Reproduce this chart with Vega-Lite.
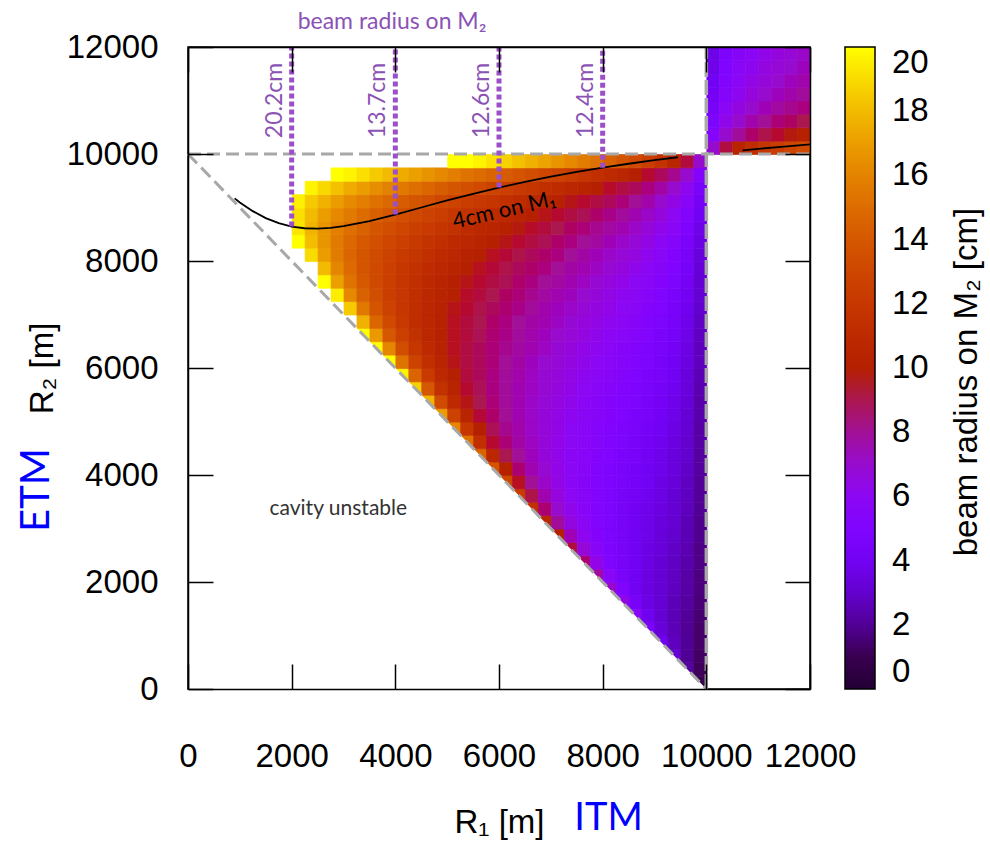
{
"$schema": "https://vega.github.io/schema/vega-lite/v6.json",
"width": 622, "height": 642,
"autosize": {"type": "none"},
"padding": {"left": 188, "top": 47, "right": 180, "bottom": 152},
"background": "white",
"config": {
 "view": {"stroke": "black", "strokeWidth": 1.5},
 "axis": {"grid": false, "labelFont": "Liberation Sans", "titleFont": "Liberation Sans", "labelFontSize": 33, "titleFontSize": 33, "titleFontWeight": "normal", "labelColor": "black", "titleColor": "black", "tickColor": "black", "domainColor": "black", "tickWidth": 1.5, "domainWidth": 1.5, "labelFlush": false, "labelOverlap": false},
 "legend": {"labelFont": "Liberation Sans", "titleFont": "Liberation Sans"}
},
"resolve": {"axis": {"x": "independent", "y": "independent"}},
"datasets": {
 "cells": [
{"r1":2125,"r2":8375,"w":20},{"r1":2125,"r2":8625,"w":19.3},{"r1":2125,"r2":8875,"w":19.1},{"r1":2125,"r2":9125,"w":19.6},
{"r1":2375,"r2":8125,"w":19.0},{"r1":2375,"r2":8375,"w":18.1},{"r1":2375,"r2":8625,"w":17.8},{"r1":2375,"r2":8875,"w":18.0},{"r1":2375,"r2":9125,"w":18.5},{"r1":2375,"r2":9375,"w":19.7},
{"r1":2625,"r2":7625,"w":20},{"r1":2625,"r2":7875,"w":18.0},{"r1":2625,"r2":8125,"w":17.0},{"r1":2625,"r2":8375,"w":16.7},{"r1":2625,"r2":8625,"w":16.7},{"r1":2625,"r2":8875,"w":17.0},{"r1":2625,"r2":9125,"w":17.7},{"r1":2625,"r2":9375,"w":18.9},
{"r1":2875,"r2":7375,"w":19.5},{"r1":2875,"r2":7625,"w":17.1},{"r1":2875,"r2":7875,"w":16.1},{"r1":2875,"r2":8125,"w":15.7},{"r1":2875,"r2":8375,"w":15.6},{"r1":2875,"r2":8625,"w":15.8},{"r1":2875,"r2":8875,"w":16.2},{"r1":2875,"r2":9125,"w":17.0},{"r1":2875,"r2":9375,"w":18.2},{"r1":2875,"r2":9625,"w":20},
{"r1":3125,"r2":7125,"w":18.5},{"r1":3125,"r2":7375,"w":16.2},{"r1":3125,"r2":7625,"w":15.3},{"r1":3125,"r2":7875,"w":14.9},{"r1":3125,"r2":8125,"w":14.7},{"r1":3125,"r2":8375,"w":14.8},{"r1":3125,"r2":8625,"w":15.1},{"r1":3125,"r2":8875,"w":15.6},{"r1":3125,"r2":9125,"w":16.3},{"r1":3125,"r2":9375,"w":17.5},{"r1":3125,"r2":9625,"w":19.7},
{"r1":3375,"r2":6625,"w":20},{"r1":3375,"r2":6875,"w":17.7},{"r1":3375,"r2":7125,"w":15.5},{"r1":3375,"r2":7375,"w":14.5},{"r1":3375,"r2":7625,"w":14.1},{"r1":3375,"r2":7875,"w":13.9},{"r1":3375,"r2":8125,"w":13.9},{"r1":3375,"r2":8375,"w":14.1},{"r1":3375,"r2":8625,"w":14.5},{"r1":3375,"r2":8875,"w":15.0},{"r1":3375,"r2":9125,"w":15.8},{"r1":3375,"r2":9375,"w":17.0},{"r1":3375,"r2":9625,"w":19.1},
{"r1":3625,"r2":6375,"w":20},{"r1":3625,"r2":6625,"w":16.9},{"r1":3625,"r2":6875,"w":14.7},{"r1":3625,"r2":7125,"w":13.8},{"r1":3625,"r2":7375,"w":13.4},{"r1":3625,"r2":7625,"w":13.2},{"r1":3625,"r2":7875,"w":13.2},{"r1":3625,"r2":8125,"w":13.3},{"r1":3625,"r2":8375,"w":13.5},{"r1":3625,"r2":8625,"w":13.9},{"r1":3625,"r2":8875,"w":14.4},{"r1":3625,"r2":9125,"w":15.2},{"r1":3625,"r2":9375,"w":16.4},{"r1":3625,"r2":9625,"w":18.5},
{"r1":3875,"r2":6125,"w":20},{"r1":3875,"r2":6375,"w":16.1},{"r1":3875,"r2":6625,"w":14.0},{"r1":3875,"r2":6875,"w":13.2},{"r1":3875,"r2":7125,"w":12.7},{"r1":3875,"r2":7375,"w":12.5},{"r1":3875,"r2":7625,"w":12.5},{"r1":3875,"r2":7875,"w":12.6},{"r1":3875,"r2":8125,"w":12.7},{"r1":3875,"r2":8375,"w":13.0},{"r1":3875,"r2":8625,"w":13.4},{"r1":3875,"r2":8875,"w":14.0},{"r1":3875,"r2":9125,"w":14.8},{"r1":3875,"r2":9375,"w":15.9},{"r1":3875,"r2":9625,"w":18.0},
{"r1":4125,"r2":5875,"w":19.7},{"r1":4125,"r2":6125,"w":15.3},{"r1":4125,"r2":6375,"w":13.4},{"r1":4125,"r2":6625,"w":12.6},{"r1":4125,"r2":6875,"w":12.1},{"r1":4125,"r2":7125,"w":11.9},{"r1":4125,"r2":7375,"w":11.9},{"r1":4125,"r2":7625,"w":11.9},{"r1":4125,"r2":7875,"w":12.0},{"r1":4125,"r2":8125,"w":12.2},{"r1":4125,"r2":8375,"w":12.6},{"r1":4125,"r2":8625,"w":13.0},{"r1":4125,"r2":8875,"w":13.5},{"r1":4125,"r2":9125,"w":14.3},{"r1":4125,"r2":9375,"w":15.5},{"r1":4125,"r2":9625,"w":17.5},
{"r1":4375,"r2":5625,"w":18.7},{"r1":4375,"r2":5875,"w":14.6},{"r1":4375,"r2":6125,"w":12.8},{"r1":4375,"r2":6375,"w":12.0},{"r1":4375,"r2":6625,"w":11.6},{"r1":4375,"r2":6875,"w":11.3},{"r1":4375,"r2":7125,"w":11.3},{"r1":4375,"r2":7375,"w":11.3},{"r1":4375,"r2":7625,"w":11.4},{"r1":4375,"r2":7875,"w":11.6},{"r1":4375,"r2":8125,"w":11.8},{"r1":4375,"r2":8375,"w":12.1},{"r1":4375,"r2":8625,"w":12.5},{"r1":4375,"r2":8875,"w":13.1},{"r1":4375,"r2":9125,"w":13.9},{"r1":4375,"r2":9375,"w":15.1},{"r1":4375,"r2":9625,"w":17.1},
{"r1":4625,"r2":5375,"w":17.8},{"r1":4625,"r2":5625,"w":14.0},{"r1":4625,"r2":5875,"w":12.2},{"r1":4625,"r2":6125,"w":11.4},{"r1":4625,"r2":6375,"w":11.0},{"r1":4625,"r2":6625,"w":10.8},{"r1":4625,"r2":6875,"w":10.7},{"r1":4625,"r2":7125,"w":10.7},{"r1":4625,"r2":7375,"w":10.8},{"r1":4625,"r2":7625,"w":10.9},{"r1":4625,"r2":7875,"w":11.1},{"r1":4625,"r2":8125,"w":11.4},{"r1":4625,"r2":8375,"w":11.7},{"r1":4625,"r2":8625,"w":12.2},{"r1":4625,"r2":8875,"w":12.7},{"r1":4625,"r2":9125,"w":13.5},{"r1":4625,"r2":9375,"w":14.7},{"r1":4625,"r2":9625,"w":16.6},
{"r1":4875,"r2":5125,"w":17.0},{"r1":4875,"r2":5375,"w":13.3},{"r1":4875,"r2":5625,"w":11.6},{"r1":4875,"r2":5875,"w":10.9},{"r1":4875,"r2":6125,"w":10.5},{"r1":4875,"r2":6375,"w":10.3},{"r1":4875,"r2":6625,"w":10.2},{"r1":4875,"r2":6875,"w":10.2},{"r1":4875,"r2":7125,"w":10.3},{"r1":4875,"r2":7375,"w":10.4},{"r1":4875,"r2":7625,"w":10.5},{"r1":4875,"r2":7875,"w":10.7},{"r1":4875,"r2":8125,"w":11.0},{"r1":4875,"r2":8375,"w":11.4},{"r1":4875,"r2":8625,"w":11.8},{"r1":4875,"r2":8875,"w":12.4},{"r1":4875,"r2":9125,"w":13.1},{"r1":4875,"r2":9375,"w":14.3},{"r1":4875,"r2":9625,"w":16.2},
{"r1":5125,"r2":4875,"w":16.1},{"r1":5125,"r2":5125,"w":12.7},{"r1":5125,"r2":5375,"w":11.0},{"r1":5125,"r2":5625,"w":10.4},{"r1":5125,"r2":5875,"w":10.0},{"r1":5125,"r2":6125,"w":9.8},{"r1":5125,"r2":6375,"w":9.7},{"r1":5125,"r2":6625,"w":9.7},{"r1":5125,"r2":6875,"w":9.7},{"r1":5125,"r2":7125,"w":9.8},{"r1":5125,"r2":7375,"w":10.0},{"r1":5125,"r2":7625,"w":10.1},{"r1":5125,"r2":7875,"w":10.4},{"r1":5125,"r2":8125,"w":10.7},{"r1":5125,"r2":8375,"w":11.0},{"r1":5125,"r2":8625,"w":11.5},{"r1":5125,"r2":8875,"w":12.0},{"r1":5125,"r2":9125,"w":12.8},{"r1":5125,"r2":9375,"w":13.9},{"r1":5125,"r2":9625,"w":15.8},{"r1":5125,"r2":9875,"w":20},
{"r1":5375,"r2":4625,"w":15.3},{"r1":5375,"r2":4875,"w":12.0},{"r1":5375,"r2":5125,"w":10.5},{"r1":5375,"r2":5375,"w":9.8},{"r1":5375,"r2":5625,"w":9.5},{"r1":5375,"r2":5875,"w":9.3},{"r1":5375,"r2":6125,"w":9.2},{"r1":5375,"r2":6375,"w":9.2},{"r1":5375,"r2":6625,"w":9.3},{"r1":5375,"r2":6875,"w":9.3},{"r1":5375,"r2":7125,"w":9.5},{"r1":5375,"r2":7375,"w":9.6},{"r1":5375,"r2":7625,"w":9.8},{"r1":5375,"r2":7875,"w":10.0},{"r1":5375,"r2":8125,"w":10.3},{"r1":5375,"r2":8375,"w":10.7},{"r1":5375,"r2":8625,"w":11.1},{"r1":5375,"r2":8875,"w":11.7},{"r1":5375,"r2":9125,"w":12.4},{"r1":5375,"r2":9375,"w":13.5},{"r1":5375,"r2":9625,"w":15.3},{"r1":5375,"r2":9875,"w":20},
{"r1":5625,"r2":4375,"w":14.6},{"r1":5625,"r2":4625,"w":11.4},{"r1":5625,"r2":4875,"w":10.0},{"r1":5625,"r2":5125,"w":9.4},{"r1":5625,"r2":5375,"w":9.0},{"r1":5625,"r2":5625,"w":8.9},{"r1":5625,"r2":5875,"w":8.8},{"r1":5625,"r2":6125,"w":8.8},{"r1":5625,"r2":6375,"w":8.8},{"r1":5625,"r2":6625,"w":8.9},{"r1":5625,"r2":6875,"w":9.0},{"r1":5625,"r2":7125,"w":9.1},{"r1":5625,"r2":7375,"w":9.3},{"r1":5625,"r2":7625,"w":9.5},{"r1":5625,"r2":7875,"w":9.7},{"r1":5625,"r2":8125,"w":10.0},{"r1":5625,"r2":8375,"w":10.4},{"r1":5625,"r2":8625,"w":10.8},{"r1":5625,"r2":8875,"w":11.4},{"r1":5625,"r2":9125,"w":12.1},{"r1":5625,"r2":9375,"w":13.2},{"r1":5625,"r2":9625,"w":15.0},{"r1":5625,"r2":9875,"w":19.7},
{"r1":5875,"r2":4125,"w":13.8},{"r1":5875,"r2":4375,"w":10.8},{"r1":5875,"r2":4625,"w":9.5},{"r1":5875,"r2":4875,"w":8.9},{"r1":5875,"r2":5125,"w":8.6},{"r1":5875,"r2":5375,"w":8.4},{"r1":5875,"r2":5625,"w":8.3},{"r1":5875,"r2":5875,"w":8.3},{"r1":5875,"r2":6125,"w":8.4},{"r1":5875,"r2":6375,"w":8.4},{"r1":5875,"r2":6625,"w":8.5},{"r1":5875,"r2":6875,"w":8.6},{"r1":5875,"r2":7125,"w":8.8},{"r1":5875,"r2":7375,"w":9.0},{"r1":5875,"r2":7625,"w":9.2},{"r1":5875,"r2":7875,"w":9.4},{"r1":5875,"r2":8125,"w":9.7},{"r1":5875,"r2":8375,"w":10.1},{"r1":5875,"r2":8625,"w":10.5},{"r1":5875,"r2":8875,"w":11.0},{"r1":5875,"r2":9125,"w":11.8},{"r1":5875,"r2":9375,"w":12.8},{"r1":5875,"r2":9625,"w":14.6},{"r1":5875,"r2":9875,"w":19.2},
{"r1":6125,"r2":3875,"w":13.1},{"r1":6125,"r2":4125,"w":10.2},{"r1":6125,"r2":4375,"w":9.0},{"r1":6125,"r2":4625,"w":8.4},{"r1":6125,"r2":4875,"w":8.1},{"r1":6125,"r2":5125,"w":8.0},{"r1":6125,"r2":5375,"w":7.9},{"r1":6125,"r2":5625,"w":7.9},{"r1":6125,"r2":5875,"w":7.9},{"r1":6125,"r2":6125,"w":8.0},{"r1":6125,"r2":6375,"w":8.1},{"r1":6125,"r2":6625,"w":8.2},{"r1":6125,"r2":6875,"w":8.3},{"r1":6125,"r2":7125,"w":8.5},{"r1":6125,"r2":7375,"w":8.7},{"r1":6125,"r2":7625,"w":8.9},{"r1":6125,"r2":7875,"w":9.1},{"r1":6125,"r2":8125,"w":9.4},{"r1":6125,"r2":8375,"w":9.8},{"r1":6125,"r2":8625,"w":10.2},{"r1":6125,"r2":8875,"w":10.7},{"r1":6125,"r2":9125,"w":11.4},{"r1":6125,"r2":9375,"w":12.5},{"r1":6125,"r2":9625,"w":14.2},{"r1":6125,"r2":9875,"w":18.7},
{"r1":6375,"r2":3625,"w":12.3},{"r1":6375,"r2":3875,"w":9.7},{"r1":6375,"r2":4125,"w":8.5},{"r1":6375,"r2":4375,"w":8.0},{"r1":6375,"r2":4625,"w":7.7},{"r1":6375,"r2":4875,"w":7.6},{"r1":6375,"r2":5125,"w":7.5},{"r1":6375,"r2":5375,"w":7.5},{"r1":6375,"r2":5625,"w":7.5},{"r1":6375,"r2":5875,"w":7.6},{"r1":6375,"r2":6125,"w":7.7},{"r1":6375,"r2":6375,"w":7.8},{"r1":6375,"r2":6625,"w":7.9},{"r1":6375,"r2":6875,"w":8.0},{"r1":6375,"r2":7125,"w":8.2},{"r1":6375,"r2":7375,"w":8.4},{"r1":6375,"r2":7625,"w":8.6},{"r1":6375,"r2":7875,"w":8.8},{"r1":6375,"r2":8125,"w":9.1},{"r1":6375,"r2":8375,"w":9.5},{"r1":6375,"r2":8625,"w":9.9},{"r1":6375,"r2":8875,"w":10.4},{"r1":6375,"r2":9125,"w":11.1},{"r1":6375,"r2":9375,"w":12.1},{"r1":6375,"r2":9625,"w":13.8},{"r1":6375,"r2":9875,"w":18.2},
{"r1":6625,"r2":3375,"w":11.5},{"r1":6625,"r2":3625,"w":9.1},{"r1":6625,"r2":3875,"w":8.0},{"r1":6625,"r2":4125,"w":7.5},{"r1":6625,"r2":4375,"w":7.3},{"r1":6625,"r2":4625,"w":7.2},{"r1":6625,"r2":4875,"w":7.1},{"r1":6625,"r2":5125,"w":7.1},{"r1":6625,"r2":5375,"w":7.1},{"r1":6625,"r2":5625,"w":7.2},{"r1":6625,"r2":5875,"w":7.2},{"r1":6625,"r2":6125,"w":7.3},{"r1":6625,"r2":6375,"w":7.5},{"r1":6625,"r2":6625,"w":7.6},{"r1":6625,"r2":6875,"w":7.7},{"r1":6625,"r2":7125,"w":7.9},{"r1":6625,"r2":7375,"w":8.1},{"r1":6625,"r2":7625,"w":8.3},{"r1":6625,"r2":7875,"w":8.6},{"r1":6625,"r2":8125,"w":8.8},{"r1":6625,"r2":8375,"w":9.2},{"r1":6625,"r2":8625,"w":9.6},{"r1":6625,"r2":8875,"w":10.1},{"r1":6625,"r2":9125,"w":10.8},{"r1":6625,"r2":9375,"w":11.8},{"r1":6625,"r2":9625,"w":13.4},{"r1":6625,"r2":9875,"w":17.7},
{"r1":6875,"r2":3125,"w":10.8},{"r1":6875,"r2":3375,"w":8.5},{"r1":6875,"r2":3625,"w":7.5},{"r1":6875,"r2":3875,"w":7.1},{"r1":6875,"r2":4125,"w":6.9},{"r1":6875,"r2":4375,"w":6.7},{"r1":6875,"r2":4625,"w":6.7},{"r1":6875,"r2":4875,"w":6.7},{"r1":6875,"r2":5125,"w":6.7},{"r1":6875,"r2":5375,"w":6.8},{"r1":6875,"r2":5625,"w":6.9},{"r1":6875,"r2":5875,"w":6.9},{"r1":6875,"r2":6125,"w":7.0},{"r1":6875,"r2":6375,"w":7.2},{"r1":6875,"r2":6625,"w":7.3},{"r1":6875,"r2":6875,"w":7.5},{"r1":6875,"r2":7125,"w":7.6},{"r1":6875,"r2":7375,"w":7.8},{"r1":6875,"r2":7625,"w":8.0},{"r1":6875,"r2":7875,"w":8.3},{"r1":6875,"r2":8125,"w":8.6},{"r1":6875,"r2":8375,"w":8.9},{"r1":6875,"r2":8625,"w":9.3},{"r1":6875,"r2":8875,"w":9.8},{"r1":6875,"r2":9125,"w":10.5},{"r1":6875,"r2":9375,"w":11.4},{"r1":6875,"r2":9625,"w":13.0},{"r1":6875,"r2":9875,"w":17.2},
{"r1":7125,"r2":2875,"w":10.0},{"r1":7125,"r2":3125,"w":7.9},{"r1":7125,"r2":3375,"w":7.0},{"r1":7125,"r2":3625,"w":6.6},{"r1":7125,"r2":3875,"w":6.4},{"r1":7125,"r2":4125,"w":6.3},{"r1":7125,"r2":4375,"w":6.3},{"r1":7125,"r2":4625,"w":6.3},{"r1":7125,"r2":4875,"w":6.4},{"r1":7125,"r2":5125,"w":6.4},{"r1":7125,"r2":5375,"w":6.5},{"r1":7125,"r2":5625,"w":6.6},{"r1":7125,"r2":5875,"w":6.7},{"r1":7125,"r2":6125,"w":6.8},{"r1":7125,"r2":6375,"w":6.9},{"r1":7125,"r2":6625,"w":7.0},{"r1":7125,"r2":6875,"w":7.2},{"r1":7125,"r2":7125,"w":7.3},{"r1":7125,"r2":7375,"w":7.5},{"r1":7125,"r2":7625,"w":7.8},{"r1":7125,"r2":7875,"w":8.0},{"r1":7125,"r2":8125,"w":8.3},{"r1":7125,"r2":8375,"w":8.6},{"r1":7125,"r2":8625,"w":9.0},{"r1":7125,"r2":8875,"w":9.5},{"r1":7125,"r2":9125,"w":10.2},{"r1":7125,"r2":9375,"w":11.1},{"r1":7125,"r2":9625,"w":12.7},{"r1":7125,"r2":9875,"w":16.7},
{"r1":7375,"r2":2625,"w":9.3},{"r1":7375,"r2":2875,"w":7.4},{"r1":7375,"r2":3125,"w":6.5},{"r1":7375,"r2":3375,"w":6.2},{"r1":7375,"r2":3625,"w":6.0},{"r1":7375,"r2":3875,"w":5.9},{"r1":7375,"r2":4125,"w":5.9},{"r1":7375,"r2":4375,"w":5.9},{"r1":7375,"r2":4625,"w":6.0},{"r1":7375,"r2":4875,"w":6.0},{"r1":7375,"r2":5125,"w":6.1},{"r1":7375,"r2":5375,"w":6.2},{"r1":7375,"r2":5625,"w":6.3},{"r1":7375,"r2":5875,"w":6.4},{"r1":7375,"r2":6125,"w":6.5},{"r1":7375,"r2":6375,"w":6.6},{"r1":7375,"r2":6625,"w":6.8},{"r1":7375,"r2":6875,"w":6.9},{"r1":7375,"r2":7125,"w":7.1},{"r1":7375,"r2":7375,"w":7.3},{"r1":7375,"r2":7625,"w":7.5},{"r1":7375,"r2":7875,"w":7.7},{"r1":7375,"r2":8125,"w":8.0},{"r1":7375,"r2":8375,"w":8.3},{"r1":7375,"r2":8625,"w":8.7},{"r1":7375,"r2":8875,"w":9.2},{"r1":7375,"r2":9125,"w":9.8},{"r1":7375,"r2":9375,"w":10.7},{"r1":7375,"r2":9625,"w":12.3},{"r1":7375,"r2":9875,"w":16.2},
{"r1":7625,"r2":2375,"w":8.5},{"r1":7625,"r2":2625,"w":6.8},{"r1":7625,"r2":2875,"w":6.1},{"r1":7625,"r2":3125,"w":5.8},{"r1":7625,"r2":3375,"w":5.6},{"r1":7625,"r2":3625,"w":5.6},{"r1":7625,"r2":3875,"w":5.5},{"r1":7625,"r2":4125,"w":5.6},{"r1":7625,"r2":4375,"w":5.6},{"r1":7625,"r2":4625,"w":5.7},{"r1":7625,"r2":4875,"w":5.7},{"r1":7625,"r2":5125,"w":5.8},{"r1":7625,"r2":5375,"w":5.9},{"r1":7625,"r2":5625,"w":6.0},{"r1":7625,"r2":5875,"w":6.1},{"r1":7625,"r2":6125,"w":6.2},{"r1":7625,"r2":6375,"w":6.3},{"r1":7625,"r2":6625,"w":6.5},{"r1":7625,"r2":6875,"w":6.6},{"r1":7625,"r2":7125,"w":6.8},{"r1":7625,"r2":7375,"w":7.0},{"r1":7625,"r2":7625,"w":7.2},{"r1":7625,"r2":7875,"w":7.5},{"r1":7625,"r2":8125,"w":7.7},{"r1":7625,"r2":8375,"w":8.0},{"r1":7625,"r2":8625,"w":8.4},{"r1":7625,"r2":8875,"w":8.9},{"r1":7625,"r2":9125,"w":9.5},{"r1":7625,"r2":9375,"w":10.4},{"r1":7625,"r2":9625,"w":11.8},{"r1":7625,"r2":9875,"w":15.7},
{"r1":7875,"r2":2125,"w":7.8},{"r1":7875,"r2":2375,"w":6.3},{"r1":7875,"r2":2625,"w":5.6},{"r1":7875,"r2":2875,"w":5.3},{"r1":7875,"r2":3125,"w":5.2},{"r1":7875,"r2":3375,"w":5.2},{"r1":7875,"r2":3625,"w":5.2},{"r1":7875,"r2":3875,"w":5.2},{"r1":7875,"r2":4125,"w":5.2},{"r1":7875,"r2":4375,"w":5.3},{"r1":7875,"r2":4625,"w":5.4},{"r1":7875,"r2":4875,"w":5.4},{"r1":7875,"r2":5125,"w":5.5},{"r1":7875,"r2":5375,"w":5.6},{"r1":7875,"r2":5625,"w":5.7},{"r1":7875,"r2":5875,"w":5.8},{"r1":7875,"r2":6125,"w":6.0},{"r1":7875,"r2":6375,"w":6.1},{"r1":7875,"r2":6625,"w":6.2},{"r1":7875,"r2":6875,"w":6.4},{"r1":7875,"r2":7125,"w":6.5},{"r1":7875,"r2":7375,"w":6.7},{"r1":7875,"r2":7625,"w":6.9},{"r1":7875,"r2":7875,"w":7.2},{"r1":7875,"r2":8125,"w":7.4},{"r1":7875,"r2":8375,"w":7.8},{"r1":7875,"r2":8625,"w":8.1},{"r1":7875,"r2":8875,"w":8.6},{"r1":7875,"r2":9125,"w":9.2},{"r1":7875,"r2":9375,"w":10.0},{"r1":7875,"r2":9625,"w":11.4},{"r1":7875,"r2":9875,"w":15.2},
{"r1":8125,"r2":1875,"w":7.1},{"r1":8125,"r2":2125,"w":5.7},{"r1":8125,"r2":2375,"w":5.1},{"r1":8125,"r2":2625,"w":4.9},{"r1":8125,"r2":2875,"w":4.8},{"r1":8125,"r2":3125,"w":4.8},{"r1":8125,"r2":3375,"w":4.8},{"r1":8125,"r2":3625,"w":4.8},{"r1":8125,"r2":3875,"w":4.9},{"r1":8125,"r2":4125,"w":4.9},{"r1":8125,"r2":4375,"w":5.0},{"r1":8125,"r2":4625,"w":5.1},{"r1":8125,"r2":4875,"w":5.2},{"r1":8125,"r2":5125,"w":5.3},{"r1":8125,"r2":5375,"w":5.3},{"r1":8125,"r2":5625,"w":5.5},{"r1":8125,"r2":5875,"w":5.6},{"r1":8125,"r2":6125,"w":5.7},{"r1":8125,"r2":6375,"w":5.8},{"r1":8125,"r2":6625,"w":5.9},{"r1":8125,"r2":6875,"w":6.1},{"r1":8125,"r2":7125,"w":6.3},{"r1":8125,"r2":7375,"w":6.4},{"r1":8125,"r2":7625,"w":6.6},{"r1":8125,"r2":7875,"w":6.9},{"r1":8125,"r2":8125,"w":7.1},{"r1":8125,"r2":8375,"w":7.4},{"r1":8125,"r2":8625,"w":7.8},{"r1":8125,"r2":8875,"w":8.2},{"r1":8125,"r2":9125,"w":8.8},{"r1":8125,"r2":9375,"w":9.6},{"r1":8125,"r2":9625,"w":11.0},{"r1":8125,"r2":9875,"w":14.5},
{"r1":8375,"r2":1625,"w":6.4},{"r1":8375,"r2":1875,"w":5.1},{"r1":8375,"r2":2125,"w":4.6},{"r1":8375,"r2":2375,"w":4.5},{"r1":8375,"r2":2625,"w":4.4},{"r1":8375,"r2":2875,"w":4.4},{"r1":8375,"r2":3125,"w":4.4},{"r1":8375,"r2":3375,"w":4.4},{"r1":8375,"r2":3625,"w":4.5},{"r1":8375,"r2":3875,"w":4.6},{"r1":8375,"r2":4125,"w":4.6},{"r1":8375,"r2":4375,"w":4.7},{"r1":8375,"r2":4625,"w":4.8},{"r1":8375,"r2":4875,"w":4.9},{"r1":8375,"r2":5125,"w":5.0},{"r1":8375,"r2":5375,"w":5.1},{"r1":8375,"r2":5625,"w":5.2},{"r1":8375,"r2":5875,"w":5.3},{"r1":8375,"r2":6125,"w":5.4},{"r1":8375,"r2":6375,"w":5.5},{"r1":8375,"r2":6625,"w":5.7},{"r1":8375,"r2":6875,"w":5.8},{"r1":8375,"r2":7125,"w":6.0},{"r1":8375,"r2":7375,"w":6.1},{"r1":8375,"r2":7625,"w":6.3},{"r1":8375,"r2":7875,"w":6.6},{"r1":8375,"r2":8125,"w":6.8},{"r1":8375,"r2":8375,"w":7.1},{"r1":8375,"r2":8625,"w":7.5},{"r1":8375,"r2":8875,"w":7.9},{"r1":8375,"r2":9125,"w":8.4},{"r1":8375,"r2":9375,"w":9.2},{"r1":8375,"r2":9625,"w":10.6},{"r1":8375,"r2":9875,"w":13.9},
{"r1":8625,"r2":1375,"w":5.6},{"r1":8625,"r2":1625,"w":4.5},{"r1":8625,"r2":1875,"w":4.1},{"r1":8625,"r2":2125,"w":4.0},{"r1":8625,"r2":2375,"w":4.0},{"r1":8625,"r2":2625,"w":4.0},{"r1":8625,"r2":2875,"w":4.0},{"r1":8625,"r2":3125,"w":4.1},{"r1":8625,"r2":3375,"w":4.1},{"r1":8625,"r2":3625,"w":4.2},{"r1":8625,"r2":3875,"w":4.3},{"r1":8625,"r2":4125,"w":4.3},{"r1":8625,"r2":4375,"w":4.4},{"r1":8625,"r2":4625,"w":4.5},{"r1":8625,"r2":4875,"w":4.6},{"r1":8625,"r2":5125,"w":4.7},{"r1":8625,"r2":5375,"w":4.8},{"r1":8625,"r2":5625,"w":4.9},{"r1":8625,"r2":5875,"w":5.0},{"r1":8625,"r2":6125,"w":5.1},{"r1":8625,"r2":6375,"w":5.2},{"r1":8625,"r2":6625,"w":5.4},{"r1":8625,"r2":6875,"w":5.5},{"r1":8625,"r2":7125,"w":5.7},{"r1":8625,"r2":7375,"w":5.8},{"r1":8625,"r2":7625,"w":6.0},{"r1":8625,"r2":7875,"w":6.2},{"r1":8625,"r2":8125,"w":6.5},{"r1":8625,"r2":8375,"w":6.8},{"r1":8625,"r2":8625,"w":7.1},{"r1":8625,"r2":8875,"w":7.5},{"r1":8625,"r2":9125,"w":8.0},{"r1":8625,"r2":9375,"w":8.8},{"r1":8625,"r2":9625,"w":10.0},{"r1":8625,"r2":9875,"w":13.2},
{"r1":8875,"r2":1125,"w":4.7},{"r1":8875,"r2":1375,"w":3.9},{"r1":8875,"r2":1625,"w":3.6},{"r1":8875,"r2":1875,"w":3.5},{"r1":8875,"r2":2125,"w":3.5},{"r1":8875,"r2":2375,"w":3.6},{"r1":8875,"r2":2625,"w":3.6},{"r1":8875,"r2":2875,"w":3.7},{"r1":8875,"r2":3125,"w":3.7},{"r1":8875,"r2":3375,"w":3.8},{"r1":8875,"r2":3625,"w":3.9},{"r1":8875,"r2":3875,"w":4.0},{"r1":8875,"r2":4125,"w":4.0},{"r1":8875,"r2":4375,"w":4.1},{"r1":8875,"r2":4625,"w":4.2},{"r1":8875,"r2":4875,"w":4.3},{"r1":8875,"r2":5125,"w":4.4},{"r1":8875,"r2":5375,"w":4.5},{"r1":8875,"r2":5625,"w":4.6},{"r1":8875,"r2":5875,"w":4.7},{"r1":8875,"r2":6125,"w":4.8},{"r1":8875,"r2":6375,"w":4.9},{"r1":8875,"r2":6625,"w":5.1},{"r1":8875,"r2":6875,"w":5.2},{"r1":8875,"r2":7125,"w":5.3},{"r1":8875,"r2":7375,"w":5.5},{"r1":8875,"r2":7625,"w":5.7},{"r1":8875,"r2":7875,"w":5.9},{"r1":8875,"r2":8125,"w":6.1},{"r1":8875,"r2":8375,"w":6.4},{"r1":8875,"r2":8625,"w":6.7},{"r1":8875,"r2":8875,"w":7.1},{"r1":8875,"r2":9125,"w":7.6},{"r1":8875,"r2":9375,"w":8.3},{"r1":8875,"r2":9625,"w":9.5},{"r1":8875,"r2":9875,"w":12.5},
{"r1":9125,"r2":875,"w":3.9},{"r1":9125,"r2":1125,"w":3.3},{"r1":9125,"r2":1375,"w":3.1},{"r1":9125,"r2":1625,"w":3.1},{"r1":9125,"r2":1875,"w":3.1},{"r1":9125,"r2":2125,"w":3.2},{"r1":9125,"r2":2375,"w":3.2},{"r1":9125,"r2":2625,"w":3.3},{"r1":9125,"r2":2875,"w":3.3},{"r1":9125,"r2":3125,"w":3.4},{"r1":9125,"r2":3375,"w":3.5},{"r1":9125,"r2":3625,"w":3.6},{"r1":9125,"r2":3875,"w":3.6},{"r1":9125,"r2":4125,"w":3.7},{"r1":9125,"r2":4375,"w":3.8},{"r1":9125,"r2":4625,"w":3.9},{"r1":9125,"r2":4875,"w":4.0},{"r1":9125,"r2":5125,"w":4.1},{"r1":9125,"r2":5375,"w":4.2},{"r1":9125,"r2":5625,"w":4.3},{"r1":9125,"r2":5875,"w":4.4},{"r1":9125,"r2":6125,"w":4.5},{"r1":9125,"r2":6375,"w":4.6},{"r1":9125,"r2":6625,"w":4.7},{"r1":9125,"r2":6875,"w":4.8},{"r1":9125,"r2":7125,"w":5.0},{"r1":9125,"r2":7375,"w":5.1},{"r1":9125,"r2":7625,"w":5.3},{"r1":9125,"r2":7875,"w":5.5},{"r1":9125,"r2":8125,"w":5.7},{"r1":9125,"r2":8375,"w":5.9},{"r1":9125,"r2":8625,"w":6.2},{"r1":9125,"r2":8875,"w":6.6},{"r1":9125,"r2":9125,"w":7.0},{"r1":9125,"r2":9375,"w":7.7},{"r1":9125,"r2":9625,"w":8.8},{"r1":9125,"r2":9875,"w":11.7},
{"r1":9375,"r2":625,"w":3.1},{"r1":9375,"r2":875,"w":2.7},{"r1":9375,"r2":1125,"w":2.6},{"r1":9375,"r2":1375,"w":2.6},{"r1":9375,"r2":1625,"w":2.6},{"r1":9375,"r2":1875,"w":2.7},{"r1":9375,"r2":2125,"w":2.8},{"r1":9375,"r2":2375,"w":2.8},{"r1":9375,"r2":2625,"w":2.9},{"r1":9375,"r2":2875,"w":3.0},{"r1":9375,"r2":3125,"w":3.1},{"r1":9375,"r2":3375,"w":3.1},{"r1":9375,"r2":3625,"w":3.2},{"r1":9375,"r2":3875,"w":3.3},{"r1":9375,"r2":4125,"w":3.4},{"r1":9375,"r2":4375,"w":3.4},{"r1":9375,"r2":4625,"w":3.5},{"r1":9375,"r2":4875,"w":3.6},{"r1":9375,"r2":5125,"w":3.7},{"r1":9375,"r2":5375,"w":3.8},{"r1":9375,"r2":5625,"w":3.9},{"r1":9375,"r2":5875,"w":4.0},{"r1":9375,"r2":6125,"w":4.1},{"r1":9375,"r2":6375,"w":4.2},{"r1":9375,"r2":6625,"w":4.3},{"r1":9375,"r2":6875,"w":4.4},{"r1":9375,"r2":7125,"w":4.5},{"r1":9375,"r2":7375,"w":4.7},{"r1":9375,"r2":7625,"w":4.8},{"r1":9375,"r2":7875,"w":5.0},{"r1":9375,"r2":8125,"w":5.2},{"r1":9375,"r2":8375,"w":5.4},{"r1":9375,"r2":8625,"w":5.7},{"r1":9375,"r2":8875,"w":6.0},{"r1":9375,"r2":9125,"w":6.4},{"r1":9375,"r2":9375,"w":7.0},{"r1":9375,"r2":9625,"w":8.1},{"r1":9375,"r2":9875,"w":10.6},
{"r1":9625,"r2":375,"w":2.2},{"r1":9625,"r2":625,"w":2.0},{"r1":9625,"r2":875,"w":2.0},{"r1":9625,"r2":1125,"w":2.0},{"r1":9625,"r2":1375,"w":2.1},{"r1":9625,"r2":1625,"w":2.2},{"r1":9625,"r2":1875,"w":2.3},{"r1":9625,"r2":2125,"w":2.3},{"r1":9625,"r2":2375,"w":2.4},{"r1":9625,"r2":2625,"w":2.5},{"r1":9625,"r2":2875,"w":2.6},{"r1":9625,"r2":3125,"w":2.6},{"r1":9625,"r2":3375,"w":2.7},{"r1":9625,"r2":3625,"w":2.8},{"r1":9625,"r2":3875,"w":2.8},{"r1":9625,"r2":4125,"w":2.9},{"r1":9625,"r2":4375,"w":3.0},{"r1":9625,"r2":4625,"w":3.0},{"r1":9625,"r2":4875,"w":3.1},{"r1":9625,"r2":5125,"w":3.2},{"r1":9625,"r2":5375,"w":3.3},{"r1":9625,"r2":5625,"w":3.4},{"r1":9625,"r2":5875,"w":3.4},{"r1":9625,"r2":6125,"w":3.5},{"r1":9625,"r2":6375,"w":3.6},{"r1":9625,"r2":6625,"w":3.7},{"r1":9625,"r2":6875,"w":3.8},{"r1":9625,"r2":7125,"w":3.9},{"r1":9625,"r2":7375,"w":4.1},{"r1":9625,"r2":7625,"w":4.2},{"r1":9625,"r2":7875,"w":4.3},{"r1":9625,"r2":8125,"w":4.5},{"r1":9625,"r2":8375,"w":4.7},{"r1":9625,"r2":8625,"w":4.9},{"r1":9625,"r2":8875,"w":5.2},{"r1":9625,"r2":9125,"w":5.6},{"r1":9625,"r2":9375,"w":6.1},{"r1":9625,"r2":9625,"w":7.0},{"r1":9625,"r2":9875,"w":9.3},
{"r1":9875,"r2":125,"w":0.9},{"r1":9875,"r2":375,"w":1.2},{"r1":9875,"r2":625,"w":1.3},{"r1":9875,"r2":875,"w":1.4},{"r1":9875,"r2":1125,"w":1.4},{"r1":9875,"r2":1375,"w":1.5},{"r1":9875,"r2":1625,"w":1.6},{"r1":9875,"r2":1875,"w":1.7},{"r1":9875,"r2":2125,"w":1.7},{"r1":9875,"r2":2375,"w":1.8},{"r1":9875,"r2":2625,"w":1.8},{"r1":9875,"r2":2875,"w":1.9},{"r1":9875,"r2":3125,"w":1.9},{"r1":9875,"r2":3375,"w":2.0},{"r1":9875,"r2":3625,"w":2.1},{"r1":9875,"r2":3875,"w":2.1},{"r1":9875,"r2":4125,"w":2.2},{"r1":9875,"r2":4375,"w":2.2},{"r1":9875,"r2":4625,"w":2.3},{"r1":9875,"r2":4875,"w":2.3},{"r1":9875,"r2":5125,"w":2.4},{"r1":9875,"r2":5375,"w":2.4},{"r1":9875,"r2":5625,"w":2.5},{"r1":9875,"r2":5875,"w":2.6},{"r1":9875,"r2":6125,"w":2.7},{"r1":9875,"r2":6375,"w":2.7},{"r1":9875,"r2":6625,"w":2.8},{"r1":9875,"r2":6875,"w":2.9},{"r1":9875,"r2":7125,"w":3.0},{"r1":9875,"r2":7375,"w":3.1},{"r1":9875,"r2":7625,"w":3.2},{"r1":9875,"r2":7875,"w":3.3},{"r1":9875,"r2":8125,"w":3.4},{"r1":9875,"r2":8375,"w":3.6},{"r1":9875,"r2":8625,"w":3.7},{"r1":9875,"r2":8875,"w":4.0},{"r1":9875,"r2":9125,"w":4.2},{"r1":9875,"r2":9375,"w":4.6},{"r1":9875,"r2":9625,"w":5.3},{"r1":9875,"r2":9875,"w":7.0},
{"r1":10125,"r2":10125,"w":7.0},{"r1":10375,"r2":10125,"w":9.2},{"r1":10625,"r2":10125,"w":10.4},{"r1":10875,"r2":10125,"w":11.2},{"r1":11125,"r2":10125,"w":11.9},{"r1":11375,"r2":10125,"w":12.4},{"r1":11625,"r2":10125,"w":12.9},{"r1":11875,"r2":10125,"w":13.3},
{"r1":10125,"r2":10375,"w":5.4},{"r1":10375,"r2":10375,"w":7.0},{"r1":10625,"r2":10375,"w":7.9},{"r1":10875,"r2":10375,"w":8.6},{"r1":11125,"r2":10375,"w":9.1},{"r1":11375,"r2":10375,"w":9.5},{"r1":11625,"r2":10375,"w":9.9},{"r1":11875,"r2":10375,"w":10.2},
{"r1":10125,"r2":10625,"w":4.8},{"r1":10375,"r2":10625,"w":6.2},{"r1":10625,"r2":10625,"w":7.0},{"r1":10875,"r2":10625,"w":7.6},{"r1":11125,"r2":10625,"w":8.0},{"r1":11375,"r2":10625,"w":8.4},{"r1":11625,"r2":10625,"w":8.7},{"r1":11875,"r2":10625,"w":9.0},
{"r1":10125,"r2":10875,"w":4.4},{"r1":10375,"r2":10875,"w":5.8},{"r1":10625,"r2":10875,"w":6.5},{"r1":10875,"r2":10875,"w":7.0},{"r1":11125,"r2":10875,"w":7.4},{"r1":11375,"r2":10875,"w":7.8},{"r1":11625,"r2":10875,"w":8.1},{"r1":11875,"r2":10875,"w":8.3},
{"r1":10125,"r2":11125,"w":4.2},{"r1":10375,"r2":11125,"w":5.4},{"r1":10625,"r2":11125,"w":6.1},{"r1":10875,"r2":11125,"w":6.6},{"r1":11125,"r2":11125,"w":7.0},{"r1":11375,"r2":11125,"w":7.3},{"r1":11625,"r2":11125,"w":7.6},{"r1":11875,"r2":11125,"w":7.9},
{"r1":10125,"r2":11375,"w":4.0},{"r1":10375,"r2":11375,"w":5.2},{"r1":10625,"r2":11375,"w":5.9},{"r1":10875,"r2":11375,"w":6.4},{"r1":11125,"r2":11375,"w":6.7},{"r1":11375,"r2":11375,"w":7.0},{"r1":11625,"r2":11375,"w":7.3},{"r1":11875,"r2":11375,"w":7.6},
{"r1":10125,"r2":11625,"w":3.8},{"r1":10375,"r2":11625,"w":5.0},{"r1":10625,"r2":11625,"w":5.7},{"r1":10875,"r2":11625,"w":6.1},{"r1":11125,"r2":11625,"w":6.5},{"r1":11375,"r2":11625,"w":6.8},{"r1":11625,"r2":11625,"w":7.0},{"r1":11875,"r2":11625,"w":7.3},
{"r1":10125,"r2":11875,"w":3.7},{"r1":10375,"r2":11875,"w":4.9},{"r1":10625,"r2":11875,"w":5.5},{"r1":10875,"r2":11875,"w":5.9},{"r1":11125,"r2":11875,"w":6.3},{"r1":11375,"r2":11875,"w":6.6},{"r1":11625,"r2":11875,"w":6.8},{"r1":11875,"r2":11875,"w":7.1}
 ],
 "contour": [
{"seg":"a","r1":900,"r2":9170},{"seg":"a","r1":1000,"r2":9095},{"seg":"a","r1":1250,"r2":8932},{"seg":"a","r1":1500,"r2":8801},{"seg":"a","r1":1750,"r2":8707},{"seg":"a","r1":2000,"r2":8644},{"seg":"a","r1":2250,"r2":8612},{"seg":"a","r1":2500,"r2":8605},{"seg":"a","r1":2750,"r2":8619},{"seg":"a","r1":3000,"r2":8650},{"seg":"a","r1":3500,"r2":8746},{"seg":"a","r1":4000,"r2":8868},{"seg":"a","r1":4500,"r2":9000},{"seg":"a","r1":5000,"r2":9131},{"seg":"a","r1":5500,"r2":9256},{"seg":"a","r1":6000,"r2":9372},{"seg":"a","r1":6500,"r2":9479},{"seg":"a","r1":7000,"r2":9576},{"seg":"a","r1":7500,"r2":9665},{"seg":"a","r1":8000,"r2":9745},{"seg":"a","r1":8500,"r2":9818},{"seg":"a","r1":9000,"r2":9885},{"seg":"a","r1":9450,"r2":9939},
{"seg":"b","r1":10700,"r2":10069},{"seg":"b","r1":11000,"r2":10096},{"seg":"b","r1":11500,"r2":10139},{"seg":"b","r1":12000,"r2":10178}
 ],
 "marks": [
{"r1":2000,"r2":8644,"label":"20.2cm"},{"r1":4000,"r2":8868,"label":"13.7cm"},{"r1":6000,"r2":9372,"label":"12.6cm"},{"r1":8000,"r2":9745,"label":"12.4cm"}
 ]
},
"layer": [
 {
  "data": {"name": "cells"},
  "mark": {"type": "rect", "strokeWidth": 0.7},
  "encoding": {
   "x": {"field": "r1", "type": "quantitative", "bin": {"step": 250, "extent": [0, 12000]}, "scale": {"domain": [0, 12000], "nice": false, "zero": false}, "axis": null},
   "y": {"field": "r2", "type": "quantitative", "bin": {"step": 250, "extent": [0, 12000]}, "scale": {"domain": [0, 12000], "nice": false, "zero": false}, "axis": null},
   "color": {"field": "w", "type": "quantitative",
     "scale": {"type": "linear", "domain": [0,1,2,3,4,5,6,7,8,9,10,11,12,13,14,15,16,17,18,19,20], "range": ["#000000","#39004F","#510096","#6301CE","#7202F3","#8004FF","#8C07F3","#970BCE","#A11096","#AB174F","#B42000","#BD2A00","#C63700","#CE4600","#D55700","#DD6C00","#E48300","#EB9D00","#F2BA00","#F9DB00","#FFFF00"], "clamp": true},
     "legend": {"type": "gradient", "orient": "none", "legendX": 657, "legendY": 0, "direction": "vertical", "gradientLength": 642, "gradientThickness": 30, "values": [0,2,4,6,8,10,12,14,16,18,20], "format": "d", "labelFontSize": 33, "labelColor": "black", "labelOffset": 17, "labelOverlap": false, "title": null, "gradientStrokeColor": "black", "gradientStrokeWidth": 1.5, "padding": 0}},
   "stroke": {"field": "w", "type": "quantitative",
     "scale": {"type": "linear", "domain": [0,1,2,3,4,5,6,7,8,9,10,11,12,13,14,15,16,17,18,19,20.001], "range": ["#000000","#39004F","#510096","#6301CE","#7202F3","#8004FF","#8C07F3","#970BCE","#A11096","#AB174F","#B42000","#BD2A00","#C63700","#CE4600","#D55700","#DD6C00","#E48300","#EB9D00","#F2BA00","#F9DB00","#FFFF00"], "clamp": true},
     "legend": null}
  }
 },
 {
  "data": {"values": [{"r1": 0, "r2": 10000}, {"r1": 10000, "r2": 0}]},
  "mark": {"type": "area", "color": "white", "opacity": 1},
  "encoding": {
   "x": {"field": "r1", "type": "quantitative", "axis": null},
   "y": {"field": "r2", "type": "quantitative", "axis": null},
   "y2": {"datum": 0}
  }
 },
 {
  "data": {"values": [{"x1": 0, "y1": 10000, "x2": 10000, "y2": 0}, {"x1": 0, "y1": 10000, "x2": 12000, "y2": 10000}]},
  "mark": {"type": "rule", "color": "#a8a8a8", "strokeWidth": 3, "strokeDash": [13, 6]},
  "encoding": {
   "x": {"field": "x1", "type": "quantitative", "axis": {"orient": "bottom", "zindex": 2, "values": [0,2000,4000,6000,8000,10000,12000], "format": "d", "tickSize": -25, "labelPadding": 76, "title": "R₁  [m]", "titleX": 311, "titleY": 133, "titleBaseline": "middle", "titleAlign": "center", "domain": true}},
   "y": {"field": "y1", "type": "quantitative", "axis": {"orient": "left", "zindex": 2, "values": [0,2000,4000,6000,8000,10000,12000], "format": "d", "tickSize": -25, "labelPadding": 55, "title": "R₂  [m]", "titleX": -146, "titleY": 321, "titleAngle": 270, "titleBaseline": "middle", "titleAlign": "center", "domain": true}},
   "x2": {"field": "x2"},
   "y2": {"field": "y2"}
  }
 },
 {
  "data": {"values": [{"x1": 10000, "y1": 0, "y2": 12000}]},
  "mark": {"type": "rule", "color": "#a8a8a8", "strokeWidth": 3.5, "strokeDash": [15, 3]},
  "encoding": {
   "x": {"field": "x1", "type": "quantitative", "axis": null},
   "y": {"field": "y1", "type": "quantitative", "axis": null},
   "y2": {"field": "y2"}
  }
 },
 {
  "data": {"name": "contour"},
  "mark": {"type": "line", "color": "black", "strokeWidth": 1.8},
  "encoding": {
   "x": {"field": "r1", "type": "quantitative", "axis": {"orient": "top", "zindex": 2, "values": [0,2000,4000,6000,8000,10000,12000], "labels": false, "tickSize": -25, "title": null, "domain": true}},
   "y": {"field": "r2", "type": "quantitative", "axis": {"orient": "right", "zindex": 2, "values": [0,2000,4000,6000,8000,10000,12000], "labels": false, "tickSize": -25, "title": null, "domain": true}},
   "detail": {"field": "seg"}
  }
 },
 {
  "data": {"name": "marks"},
  "mark": {"type": "rule", "color": "#9b4fc9", "strokeWidth": 5, "strokeDash": [5, 3]},
  "encoding": {
   "x": {"field": "r1", "type": "quantitative", "axis": null},
   "y": {"field": "r2", "type": "quantitative", "axis": null},
   "y2": {"datum": 12000}
  }
 },
 {
  "data": {"name": "marks"},
  "mark": {"type": "text", "color": "#8b52b5", "font": "Lato", "fontSize": 23, "angle": 270, "align": "center", "baseline": "bottom", "dy": -5},
  "encoding": {
   "x": {"field": "r1", "type": "quantitative", "axis": null},
   "y": {"datum": 11000, "type": "quantitative", "axis": null},
   "text": {"field": "label"}
  }
 },
 {
  "data": {"values": [{"label": "beam radius on M₂"}]},
  "mark": {"type": "text", "color": "#8b52b5", "font": "Lato", "fontSize": 23, "align": "center", "baseline": "middle"},
  "encoding": {
   "x": {"datum": 3936, "type": "quantitative", "axis": null},
   "y": {"datum": 12467, "type": "quantitative", "axis": null},
   "text": {"field": "label"}
  }
 },
 {
  "data": {"values": [{"label": "4cm on M₁"}]},
  "mark": {"type": "text", "color": "black", "font": "Lato", "fontSize": 22, "angle": 347, "align": "center", "baseline": "middle"},
  "encoding": {
   "x": {"datum": 6100, "type": "quantitative", "axis": null},
   "y": {"datum": 8950, "type": "quantitative", "axis": null},
   "text": {"field": "label"}
  }
 },
 {
  "data": {"values": [{"label": "cavity unstable"}]},
  "mark": {"type": "text", "color": "#333333", "font": "Lato", "fontSize": 21, "align": "center", "baseline": "middle"},
  "encoding": {
   "x": {"datum": 2900, "type": "quantitative", "axis": null},
   "y": {"datum": 3360, "type": "quantitative", "axis": null},
   "text": {"field": "label"}
  }
 },
 {
  "data": {"values": [{"label": "beam radius on M₂ [cm]"}]},
  "mark": {"type": "text", "color": "black", "font": "Liberation Sans", "fontSize": 33, "angle": 270, "align": "center", "baseline": "middle"},
  "encoding": {
   "x": {"datum": 15029, "type": "quantitative", "axis": null},
   "y": {"datum": 5738, "type": "quantitative", "axis": null},
   "text": {"field": "label"}
  }
 },
 {
  "data": {"values": [{"label": "ITM"}]},
  "mark": {"type": "text", "color": "#0000ff", "font": "Lato", "fontSize": 38, "align": "center", "baseline": "middle"},
  "encoding": {
   "x": {"datum": 8113, "type": "quantitative", "axis": null},
   "y": {"datum": -2430, "type": "quantitative", "axis": null},
   "text": {"field": "label"}
  }
 },
 {
  "data": {"values": [{"label": "ETM"}]},
  "mark": {"type": "text", "color": "#0000ff", "font": "Lato", "fontSize": 40, "angle": 270, "align": "center", "baseline": "middle"},
  "encoding": {
   "x": {"datum": -2904, "type": "quantitative", "axis": null},
   "y": {"datum": 3720, "type": "quantitative", "axis": null},
   "text": {"field": "label"}
  }
 }
]
}
